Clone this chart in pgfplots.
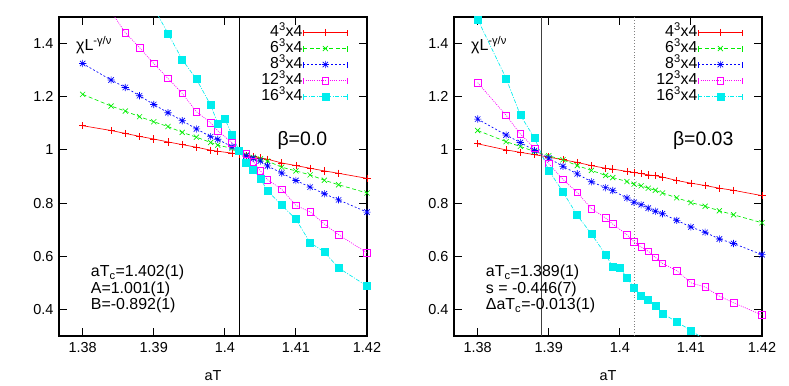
\documentclass[border=0pt]{standalone}
\usepackage{fontspec}
\setmainfont{Liberation Sans}
\usepackage{pgfplots}
\pgfplotsset{compat=1.18}
\definecolor{gpred}{rgb}{1,0,0}
\definecolor{gpgreen}{rgb}{0,0.93,0}
\definecolor{gpblue}{rgb}{0,0,1}
\definecolor{gpmag}{rgb}{1,0,1}
\definecolor{gpcyan}{rgb}{0,0.93,0.93}
\pgfdeclareplotmark{gpstar}{%
  \pgfpathmoveto{\pgfqpoint{-\pgfplotmarksize}{0pt}}\pgfpathlineto{\pgfqpoint{\pgfplotmarksize}{0pt}}%
  \pgfpathmoveto{\pgfqpoint{0pt}{-\pgfplotmarksize}}\pgfpathlineto{\pgfqpoint{0pt}{\pgfplotmarksize}}%
  \pgfpathmoveto{\pgfqpoint{-0.75\pgfplotmarksize}{-0.75\pgfplotmarksize}}\pgfpathlineto{\pgfqpoint{0.75\pgfplotmarksize}{0.75\pgfplotmarksize}}%
  \pgfpathmoveto{\pgfqpoint{-0.75\pgfplotmarksize}{0.75\pgfplotmarksize}}\pgfpathlineto{\pgfqpoint{0.75\pgfplotmarksize}{-0.75\pgfplotmarksize}}%
  \pgfusepathqstroke}
\newcommand\gpfont{\fontsize{16}{17.5}\selectfont}
\newcommand\gptick{\fontsize{14.5}{16}\selectfont}
\pgfplotsset{
  sA/.style={color=gpred, line width=0.65bp, solid, mark=+, mark size=3.6bp, mark options={solid}},
  sB/.style={color=gpgreen, line width=0.65bp, dash pattern=on 4bp off 2.5bp, mark=x, mark size=3.6bp, mark options={solid}},
  sC/.style={color=gpblue, line width=0.65bp, dash pattern=on 2bp off 2bp, mark=gpstar, mark size=3.6bp, mark options={solid}},
  sD/.style={color=gpmag, line width=0.65bp, dash pattern=on 1bp off 1.2bp, mark=square, mark size=3.3bp, mark options={solid}},
  sE/.style={color=gpcyan, line width=0.65bp, dash pattern=on 4bp off 1.5bp on 1bp off 1.5bp, mark=square*, mark size=3.5bp, mark options={solid}},
  gpax/.style={
    scale only axis, width=308bp, height=319bp,
    xmin=1.37667, xmax=1.42, ymin=0.3, ymax=1.5,
    xtick={1.38,1.39,1.40,1.41,1.42},
    ytick={0.4,0.6,0.8,1.0,1.2,1.4},
    tick align=inside, major tick length=8bp,
    axis line style={line width=1.1bp},
    every tick/.style={black, line width=0.9bp},
    tick label style={font=\gptick},
    /pgf/number format/assume math mode=true,
    xticklabel style={/pgf/number format/precision=3, yshift=-3bp},
    yticklabel style={xshift=-2bp},
    xlabel={aT},
    xlabel style={font=\gptick, at={(axis description cs:0.5,-0.138)}, anchor=base},
    clip=true,
    legend plot pos=right,
    legend cell align=right,
    legend style={draw=none, fill=none, at={(0.938,0.977)}, anchor=north east,
      font=\gpfont, row sep=0bp, inner sep=0pt,
      nodes={inner sep=0.5bp, text height=11.5bp, text depth=3.5bp}},
    legend image code/.code={%
      \draw[mark repeat=2,mark phase=2] plot coordinates {(0bp,0bp) (22bp,0bp) (44bp,0bp)};
      \draw[solid] (0bp,-3bp) -- (0bp,3bp) (44bp,-3bp) -- (44bp,3bp);
    },
  },
}
\begin{document}
\begin{tikzpicture}
\path (-59bp,-50bp) rectangle (730bp,336bp);
% ---------------- left panel
\begin{axis}[gpax, at={(0,0)}, anchor=south west]
\addplot[sA] table {
1.380 1.091
1.384 1.073
1.386 1.062
1.388 1.051
1.390 1.041
1.392 1.030
1.394 1.020
1.396 1.010
1.398 0.999
1.399 0.995
1.401 0.988
1.402 0.984
1.403 0.979
1.404 0.975
1.405 0.970
1.406 0.965
1.408 0.951
1.410 0.941
1.412 0.931
1.414 0.921
1.416 0.912
1.420 0.893
};
\addlegendentry{4\textsuperscript{3}x4}
\addplot[sB] table {
1.380 1.209
1.384 1.165
1.386 1.146
1.388 1.125
1.390 1.106
1.392 1.088
1.394 1.066
1.396 1.048
1.398 1.028
1.399 1.018
1.401 1.006
1.402 0.995
1.403 0.980
1.404 0.972
1.405 0.966
1.406 0.958
1.408 0.935
1.410 0.921
1.412 0.906
1.414 0.886
1.416 0.869
1.420 0.838
};
\addlegendentry{6\textsuperscript{3}x4}
\addplot[sC] table {
1.380 1.325
1.384 1.263
1.386 1.235
1.388 1.204
1.390 1.171
1.392 1.140
1.394 1.110
1.396 1.079
1.398 1.050
1.399 1.040
1.401 1.012
1.402 0.995
1.403 0.977
1.404 0.968
1.405 0.958
1.406 0.940
1.408 0.913
1.410 0.885
1.412 0.860
1.414 0.835
1.416 0.812
1.420 0.766
};
\addlegendentry{8\textsuperscript{3}x4}
\addplot[sD] table {
1.384 1.520
1.386 1.441
1.388 1.385
1.390 1.325
1.392 1.269
1.394 1.213
1.396 1.144
1.398 1.102
1.399 1.072
1.401 1.027
1.402 0.997
1.403 0.985
1.404 0.956
1.405 0.922
1.406 0.888
1.408 0.852
1.410 0.791
1.412 0.767
1.414 0.721
1.416 0.681
1.420 0.613
};
\addlegendentry{12\textsuperscript{3}x4}
\addplot[sE] table {
1.390 1.535
1.392 1.438
1.394 1.340
1.396 1.266
1.398 1.169
1.399 1.100
1.400 1.117
1.401 1.058
1.402 0.997
1.403 0.953
1.404 0.925
1.405 0.892
1.406 0.846
1.408 0.792
1.410 0.739
1.412 0.651
1.414 0.616
1.416 0.556
1.420 0.488
};
\addlegendentry{16\textsuperscript{3}x4}
\addplot[black, line width=0.9bp, forget plot] coordinates {(1.402,0.3) (1.402,1.5)};
\node[anchor=west, inner sep=0pt, font=\gpfont] at (rel axis cs:0.055,0.912) {χL\textsuperscript{-γ/ν}};
\node[anchor=center, inner sep=0pt, font=\fontsize{19.5}{21}\selectfont] at (rel axis cs:0.79,0.614) {β=0.0};
\node[anchor=base west, inner sep=0pt, font=\gpfont] at (rel axis cs:0.103,0.186) {aT\textsubscript{c}=1.402(1)};
\node[anchor=base west, inner sep=0pt, font=\gpfont] at (rel axis cs:0.103,0.134) {A=1.001(1)};
\node[anchor=base west, inner sep=0pt, font=\gpfont] at (rel axis cs:0.103,0.082) {B=-0.892(1)};
\end{axis}
% ---------------- right panel
\begin{axis}[gpax, at={(395bp,0)}, anchor=south west]
\addplot[sA] table {
1.380 1.023
1.384 1.000
1.386 0.991
1.388 0.982
1.390 0.973
1.392 0.963
1.394 0.953
1.396 0.941
1.398 0.931
1.399 0.928
1.401 0.919
1.402 0.915
1.403 0.911
1.404 0.906
1.405 0.903
1.406 0.898
1.408 0.885
1.410 0.875
1.412 0.866
1.414 0.856
1.416 0.848
1.420 0.828
};
\addlegendentry{4\textsuperscript{3}x4}
\addplot[sB] table {
1.380 1.073
1.384 1.031
1.386 1.013
1.388 0.994
1.390 0.978
1.392 0.963
1.394 0.941
1.396 0.923
1.398 0.904
1.399 0.896
1.401 0.881
1.402 0.871
1.403 0.865
1.404 0.856
1.405 0.848
1.406 0.838
1.408 0.820
1.410 0.802
1.412 0.788
1.414 0.771
1.416 0.756
1.420 0.726
};
\addlegendentry{6\textsuperscript{3}x4}
\addplot[sC] table {
1.380 1.116
1.384 1.056
1.386 1.028
1.388 0.998
1.390 0.969
1.392 0.938
1.394 0.910
1.396 0.880
1.398 0.858
1.399 0.847
1.401 0.819
1.402 0.803
1.403 0.794
1.404 0.781
1.405 0.769
1.406 0.760
1.408 0.735
1.410 0.710
1.412 0.690
1.414 0.665
1.416 0.648
1.420 0.606
};
\addlegendentry{8\textsuperscript{3}x4}
\addplot[sD] table {
1.380 1.253
1.384 1.130
1.386 1.060
1.388 1.006
1.390 0.948
1.392 0.889
1.394 0.840
1.396 0.779
1.398 0.744
1.399 0.721
1.401 0.681
1.402 0.654
1.403 0.635
1.404 0.619
1.405 0.596
1.406 0.573
1.408 0.546
1.410 0.500
1.412 0.484
1.414 0.450
1.416 0.425
1.420 0.379
};
\addlegendentry{12\textsuperscript{3}x4}
\addplot[sE] table {
1.380 1.491
1.384 1.269
1.386 1.131
1.388 1.044
1.390 0.923
1.392 0.842
1.394 0.754
1.396 0.684
1.398 0.606
1.399 0.560
1.400 0.556
1.401 0.519
1.402 0.481
1.403 0.453
1.404 0.435
1.405 0.413
1.406 0.385
1.408 0.353
1.410 0.321
1.412 0.285
};
\addlegendentry{16\textsuperscript{3}x4}
\addplot[black!75, line width=0.9bp, forget plot] coordinates {(1.389,0.3) (1.389,1.5)};
\addplot[black!50, line width=0.9bp, dotted, forget plot] coordinates {(1.402,0.3) (1.402,1.5)};
\node[anchor=west, inner sep=0pt, font=\gpfont] at (rel axis cs:0.055,0.912) {χL\textsuperscript{-γ/ν}};
\node[anchor=center, inner sep=0pt, font=\fontsize{19.5}{21}\selectfont] at (rel axis cs:0.809,0.614) {β=0.03};
\node[anchor=base west, inner sep=0pt, font=\gpfont] at (rel axis cs:0.103,0.186) {aT\textsubscript{c}=1.389(1)};
\node[anchor=base west, inner sep=0pt, font=\gpfont] at (rel axis cs:0.103,0.134) {s = -0.446(7)};
\node[anchor=base west, inner sep=0pt, font=\gpfont] at (rel axis cs:0.103,0.082) {ΔaT\textsubscript{c}=-0.013(1)};
\end{axis}
\end{tikzpicture}
\end{document}
